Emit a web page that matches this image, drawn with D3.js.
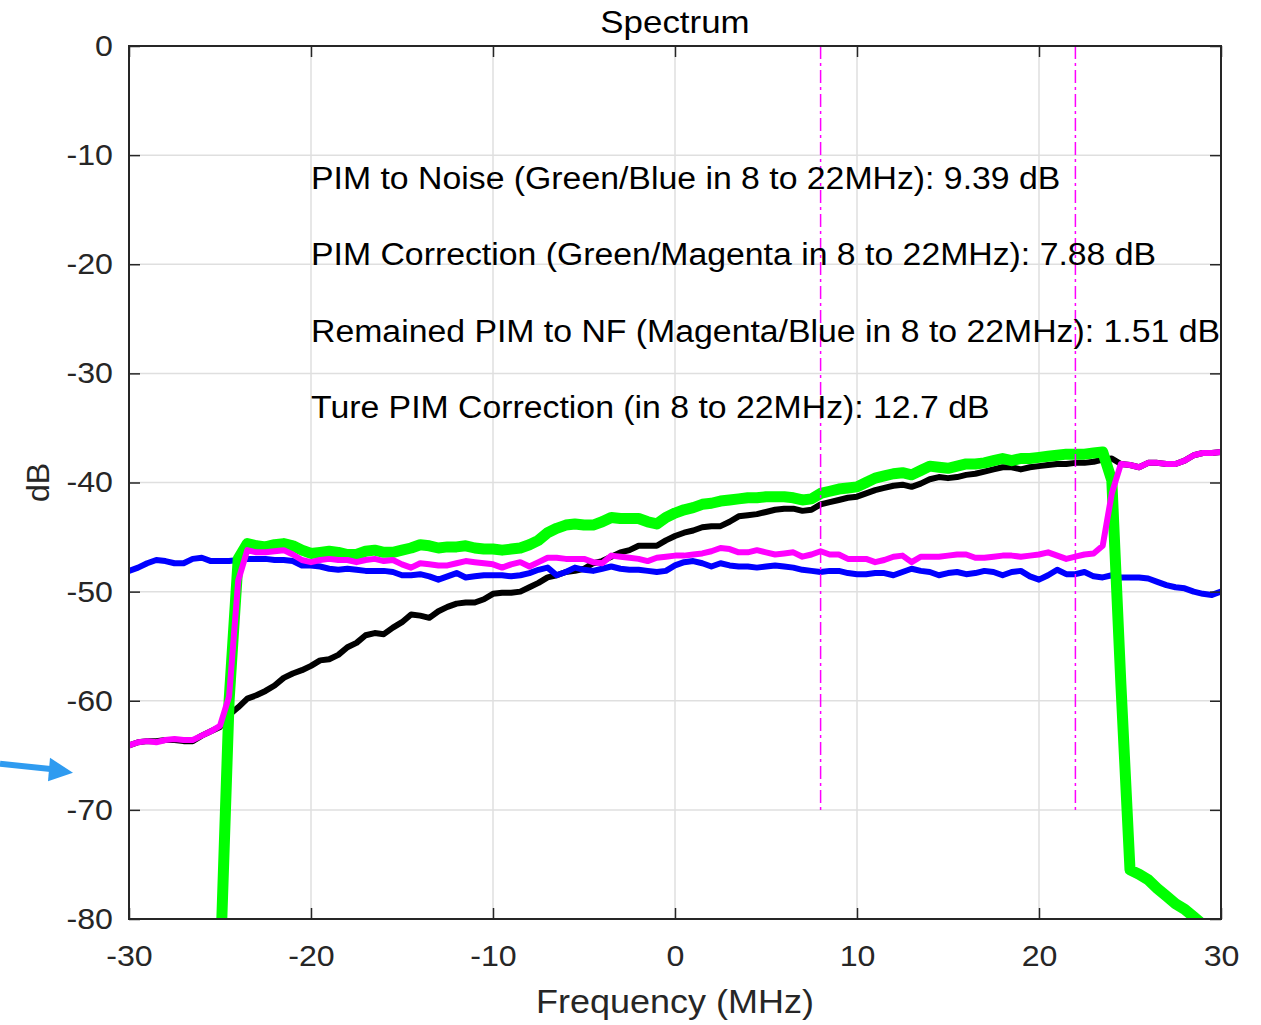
<!DOCTYPE html>
<html><head><meta charset="utf-8">
<script src="https://cdn.jsdelivr.net/npm/d3@7"></script>
<style>
html,body{margin:0;padding:0;background:#fff;}
svg{display:block;font-family:"Liberation Sans",Arial,Helvetica,sans-serif;}
</style>
</head><body>
<svg id="chart" width="1261" height="1025"></svg>
<script>
// ---------------- data ----------------
const freqMHz = [-30,-29.5,-29,-28.5,-28,-27.5,-27,-26.5,-26,-25.5,-25,-24.5,-24,-23.5,-23,-22.5,-22,-21.5,-21,-20.5,
-20,-19.5,-19,-18.5,-18,-17.5,-17,-16.5,-16,-15.5,-15,-14.5,-14,-13.5,-13,-12.5,-12,-11.5,-11,-10.5,
-10,-9.5,-9,-8.5,-8,-7.5,-7,-6.5,-6,-5.5,-5,-4.5,-4,-3.5,-3,-2.5,-2,-1.5,-1,-0.5,
0,0.5,1,1.5,2,2.5,3,3.5,4,4.5,5,5.5,6,6.5,7,7.5,8,8.5,9,9.5,
10,10.5,11,11.5,12,12.5,13,13.5,14,14.5,15,15.5,16,16.5,17,17.5,18,18.5,19,19.5,
20,20.5,21,21.5,22,22.5,23,23.5,24,24.5,25,25.5,26,26.5,27,27.5,28,28.5,29,29.5,30];

// black: received signal
const signalBlack = [-64.1,-63.8,-63.7,-63.7,-63.6,-63.6,-63.7,-63.7,-63.2,-62.8,-62.4,-61.3,-60.6,-59.8,-59.5,-59.1,-58.6,-57.9,-57.5,-57.2,
-56.8,-56.3,-56.2,-55.8,-55.1,-54.7,-54.0,-53.8,-53.9,-53.3,-52.8,-52.1,-52.2,-52.4,-51.8,-51.4,-51.1,-51.0,-51.0,-50.7,
-50.2,-50.1,-50.1,-50.0,-49.6,-49.2,-48.7,-48.5,-48.2,-48.1,-47.9,-47.4,-47.2,-46.8,-46.4,-46.2,-45.8,-45.8,-45.8,-45.3,
-44.9,-44.6,-44.4,-44.1,-44.0,-44.0,-43.6,-43.1,-43.0,-42.9,-42.7,-42.5,-42.4,-42.4,-42.6,-42.5,-42.0,-41.8,-41.6,-41.4,
-41.3,-41.0,-40.7,-40.5,-40.3,-40.2,-40.4,-40.1,-39.7,-39.5,-39.6,-39.5,-39.3,-39.2,-39.0,-38.8,-38.6,-38.6,-38.8,-38.6,
-38.5,-38.4,-38.3,-38.3,-38.2,-38.2,-38.1,-37.9,-37.8,-38.3,-38.4,-38.6,-38.2,-38.2,-38.3,-38.3,-38.0,-37.5,-37.3,-37.3,-37.2];

// blue: noise floor
const noiseBlue = [-48.1,-47.8,-47.4,-47.1,-47.2,-47.4,-47.4,-47.0,-46.9,-47.2,-47.2,-47.2,-47.1,-47.0,-47.0,-47.0,-47.1,-47.1,-47.2,-47.6,
-47.6,-47.7,-47.9,-48.0,-47.9,-48.0,-48.1,-48.1,-48.1,-48.2,-48.5,-48.5,-48.4,-48.6,-48.9,-48.6,-48.3,-48.7,-48.6,-48.5,
-48.5,-48.5,-48.6,-48.5,-48.3,-48.0,-47.8,-48.5,-48.2,-47.8,-48.0,-48.1,-47.9,-47.7,-47.9,-48.0,-48.0,-48.1,-48.2,-48.1,
-47.6,-47.3,-47.2,-47.4,-47.7,-47.4,-47.6,-47.7,-47.7,-47.8,-47.7,-47.6,-47.7,-47.8,-48.0,-48.1,-48.2,-48.1,-48.1,-48.3,
-48.4,-48.4,-48.3,-48.3,-48.5,-48.2,-47.9,-48.1,-48.2,-48.5,-48.3,-48.2,-48.4,-48.3,-48.1,-48.2,-48.5,-48.2,-48.1,-48.6,
-48.9,-48.5,-48.0,-48.4,-48.4,-48.2,-48.6,-48.7,-48.5,-48.7,-48.7,-48.7,-48.8,-49.1,-49.4,-49.6,-49.7,-50.0,-50.2,-50.3,-50.0];

// green: PIM estimate (null = not visible)
const pimGreen = [null,null,null,null,null,null,null,null,null,null,-85.0,-60.0,-47.0,-45.6,-45.8,-45.9,-45.7,-45.6,-45.8,-46.2,
-46.5,-46.4,-46.3,-46.4,-46.6,-46.6,-46.3,-46.2,-46.4,-46.4,-46.2,-46.0,-45.7,-45.8,-46.0,-45.9,-45.9,-45.8,-46.0,-46.1,
-46.1,-46.2,-46.1,-46.0,-45.7,-45.3,-44.6,-44.2,-43.9,-43.8,-43.9,-43.9,-43.6,-43.2,-43.3,-43.3,-43.3,-43.6,-43.8,-43.2,
-42.8,-42.5,-42.3,-42.0,-41.9,-41.7,-41.6,-41.5,-41.4,-41.4,-41.3,-41.3,-41.3,-41.4,-41.6,-41.5,-41.0,-40.8,-40.6,-40.5,
-40.4,-40.0,-39.6,-39.4,-39.2,-39.1,-39.3,-38.9,-38.5,-38.6,-38.7,-38.5,-38.3,-38.3,-38.2,-38.0,-37.8,-38.0,-37.8,-37.8,
-37.7,-37.6,-37.5,-37.4,-37.4,-37.4,-37.3,-37.2,-39.8,-58.5,-75.5,-75.9,-76.4,-77.2,-77.9,-78.6,-79.1,-79.8,-80.5,null,null];

// magenta: after PIM correction
const correctedMagenta = [-64.1,-63.8,-63.7,-63.8,-63.6,-63.5,-63.6,-63.6,-63.2,-62.8,-62.3,-59.6,-49.0,-46.2,-46.4,-46.4,-46.3,-46.2,-46.6,-47.1,
-47.3,-47.1,-47.0,-47.1,-47.1,-47.3,-47.1,-47.0,-47.2,-47.1,-47.5,-47.8,-47.4,-47.5,-47.6,-47.6,-47.4,-47.2,-47.3,-47.4,
-47.5,-47.8,-47.5,-47.3,-47.7,-47.3,-46.9,-46.9,-47.0,-47.0,-47.0,-47.3,-47.4,-46.7,-46.8,-46.9,-47.0,-47.2,-46.9,-46.8,
-46.7,-46.7,-46.6,-46.5,-46.3,-46.0,-46.1,-46.4,-46.4,-46.2,-46.4,-46.6,-46.5,-46.4,-46.8,-46.6,-46.3,-46.6,-46.6,-47.0,
-47.0,-47.0,-47.3,-47.1,-46.8,-46.7,-47.3,-46.8,-46.8,-46.8,-46.7,-46.6,-46.6,-46.9,-46.9,-46.8,-46.7,-46.7,-46.8,-46.7,
-46.6,-46.4,-46.7,-47.0,-46.8,-46.6,-46.5,-45.8,-41.0,-38.3,-38.4,-38.6,-38.2,-38.2,-38.3,-38.3,-38.0,-37.5,-37.3,-37.3,-37.2];

const xTicks = [-30,-20,-10,0,10,20,30];
const xTickLabels = ["-30","-20","-10","0","10","20","30"];
const yTicks = [0,-10,-20,-30,-40,-50,-60,-70,-80];
const yTickLabels = ["0","-10","-20","-30","-40","-50","-60","-70","-80"];
const bandEdgesMHz = [8, 22];
const bandLineTopDb = 0, bandLineBottomDb = -70;
const annotationLines = [
  "PIM to Noise (Green/Blue in 8 to 22MHz): 9.39 dB",
  "PIM Correction (Green/Magenta in 8 to 22MHz): 7.88 dB",
  "Remained PIM to NF (Magenta/Blue in 8 to 22MHz): 1.51 dB",
  "Ture PIM Correction (in 8 to 22MHz): 12.7 dB"
];
const annotationYdB = [-12.1, -19.1, -26.1, -33.1];
const annotationXMHz = -20;
const titleText = "Spectrum";
const xLabelText = "Frequency (MHz)";
const yLabelText = "dB";

// ---------------- drawing ----------------
const svg = d3.select("#chart");
const L = 129, R = 1221, T = 46, B = 919;
const x = d3.scaleLinear().domain([-30, 30]).range([L, R]);
const y = d3.scaleLinear().domain([-80, 0]).range([B, T]);
const STRETCH = 1.09;
function stretch(sel) {
  sel.each(function () {
    const w = this.getComputedTextLength();
    this.setAttribute("textLength", (w * STRETCH).toFixed(2));
    this.setAttribute("lengthAdjust", "spacingAndGlyphs");
  });
}

svg.append("rect").attr("width", 1261).attr("height", 1025).attr("fill", "#fff");

// grid
const grid = svg.append("g").attr("stroke", "#dfdfdf").attr("stroke-width", 1.5);
grid.selectAll(".gx").data(xTicks.slice(1, -1)).join("line")
  .attr("x1", d => x(d)).attr("x2", d => x(d)).attr("y1", T).attr("y2", B);
grid.selectAll(".gy").data(yTicks.slice(1, -1)).join("line")
  .attr("y1", d => y(d)).attr("y2", d => y(d)).attr("x1", L).attr("x2", R);

svg.append("clipPath").attr("id", "plotclip").append("rect")
  .attr("x", L).attr("y", T).attr("width", R - L).attr("height", B - T);

const plot = svg.append("g").attr("clip-path", "url(#plotclip)");
const line = d3.line().defined(d => d[1] !== null).x(d => x(d[0])).y(d => y(d[1]));
const series = [
  { values: signalBlack, color: "#000000", width: 6 },
  { values: noiseBlue, color: "#0000ff", width: 6 },
  { values: pimGreen, color: "#00ff00", width: 11 },
  { values: correctedMagenta, color: "#ff00ff", width: 6 }
];
series.forEach(s => {
  plot.append("path")
    .datum(freqMHz.map((f, i) => [f, s.values[i]]))
    .attr("d", line)
    .attr("fill", "none")
    .attr("stroke", s.color)
    .attr("stroke-width", s.width)
    .attr("stroke-linejoin", "round");
});

// band edge lines
plot.selectAll(".band").data(bandEdgesMHz).join("line")
  .attr("x1", d => x(d)).attr("x2", d => x(d))
  .attr("y1", y(bandLineTopDb)).attr("y2", y(bandLineBottomDb))
  .attr("stroke", "#ff00ff").attr("stroke-width", 1.5)
  .attr("stroke-dasharray", "13,4,3,4");

// annotations
const ann = svg.append("g").attr("font-size", 31).attr("fill", "#000");
ann.selectAll("text").data(annotationLines).join("text")
  .attr("x", x(annotationXMHz))
  .attr("y", (d, i) => y(annotationYdB[i]))
  .attr("dy", "0.35em")
  .text(d => d)
  .call(stretch);

// axes
function styleAxis(g) {
  g.select(".domain").remove();
  g.selectAll(".tick line").attr("stroke", "#262626").attr("stroke-width", 1.5);
  g.selectAll(".tick text").attr("fill", "#262626").attr("font-size", 29.5)
    .attr("font-family", "'Liberation Sans',Arial,Helvetica,sans-serif");
}
svg.append("g").attr("transform", `translate(${L},0)`)
  .call(d3.axisLeft(y).tickValues(yTicks).tickFormat((d, i) => yTickLabels[i]).tickSize(-11).tickPadding(16))
  .call(styleAxis)
  .call(g => g.selectAll(".tick text").call(stretch));
svg.append("g").attr("transform", `translate(${R},0)`)
  .call(d3.axisRight(y).tickValues(yTicks).tickFormat("").tickSize(-11))
  .call(styleAxis);
svg.append("g").attr("transform", `translate(0,${B})`)
  .call(d3.axisBottom(x).tickValues(xTicks).tickFormat((d, i) => xTickLabels[i]).tickSize(-11).tickPadding(26))
  .call(styleAxis)
  .call(g => g.selectAll(".tick text").call(stretch));
svg.append("g").attr("transform", `translate(0,${T})`)
  .call(d3.axisTop(x).tickValues(xTicks).tickFormat("").tickSize(-11))
  .call(styleAxis);

// box
svg.append("rect").attr("x", L).attr("y", T).attr("width", R - L).attr("height", B - T)
  .attr("fill", "none").attr("stroke", "#262626").attr("stroke-width", 2);

// title & labels
svg.append("text").attr("x", (L + R) / 2).attr("y", 33).attr("text-anchor", "middle")
  .attr("font-size", 32).attr("fill", "#000").text(titleText).call(stretch);
svg.append("text").attr("x", (L + R) / 2).attr("y", 1013).attr("text-anchor", "middle")
  .attr("font-size", 33).attr("fill", "#262626").text(xLabelText).call(stretch);
svg.append("text").attr("transform", `translate(49,${(T + B) / 2}) rotate(-90)`)
  .attr("text-anchor", "middle").attr("font-size", 32).attr("fill", "#262626").text(yLabelText);

// blue annotation arrow (outside the axes, pointing at the left edge)
const tipX = L - 56, tipY = y(-66.6);
const arrow = svg.append("g").attr("fill", "#2f9bf0").attr("stroke", "#2f9bf0");
arrow.append("line").attr("x1", 0).attr("y1", tipY - 9).attr("x2", tipX - 20).attr("y2", tipY - 3.5)
  .attr("stroke-width", 6);
arrow.append("path").attr("stroke", "none")
  .attr("d", `M${tipX},${tipY} L${tipX - 23},${tipY - 15} L${tipX - 25},${tipY + 8.5} Z`);
</script>
</body></html>
